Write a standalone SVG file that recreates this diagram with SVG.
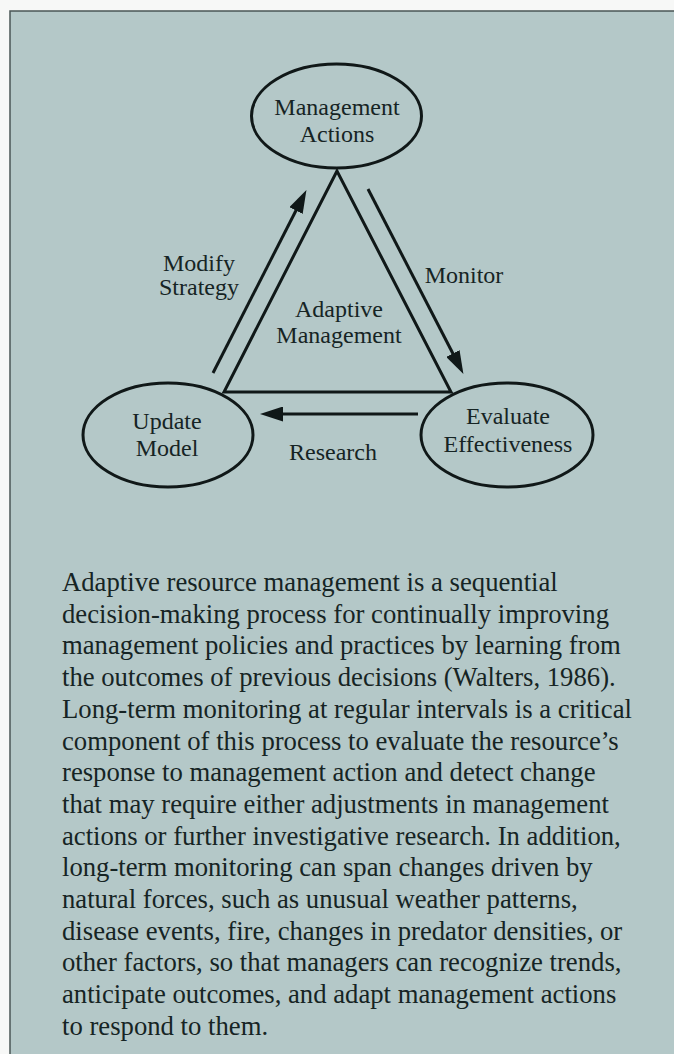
<svg xmlns="http://www.w3.org/2000/svg" width="674" height="1054" viewBox="0 0 674 1054">
<defs>
<style>
.lbl{font-family:"Liberation Serif","Times New Roman",serif;font-size:24px;fill:#162424;text-anchor:middle}
.para{font-family:"Liberation Serif","Times New Roman",serif;font-size:26.7px;fill:#162424}
.node{fill:none;stroke:#101818;stroke-width:3}
.edge{fill:none;stroke:#101818;stroke-width:3}
</style>
<marker id="ah" markerUnits="userSpaceOnUse" markerWidth="23" markerHeight="15" refX="4" refY="7.5" orient="auto">
<path d="M0,0 L23,7.5 L0,15 z" fill="#101818"/>
</marker>
</defs>
<rect x="0" y="0" width="674" height="1054" fill="#f7f8f7"/>
<rect x="10" y="11" width="680" height="1060" fill="#b4c8c8" stroke="#4a5656" stroke-width="1.5"/>

<g id="connectors">
<polygon class="edge" points="337,171 224,392 451,392" stroke-linejoin="miter"/>
<line class="edge" x1="213" y1="373" x2="297.8" y2="207" marker-end="url(#ah)"/>
<line class="edge" x1="368" y1="189" x2="454.7" y2="357" marker-end="url(#ah)"/>
<line class="edge" x1="418" y1="414" x2="279" y2="414" marker-end="url(#ah)"/>
</g>

<g id="management-actions">
<ellipse class="node" cx="336.5" cy="116" rx="85" ry="52"/>
<text class="lbl" x="337" y="115">Management</text>
<text class="lbl" x="337" y="142">Actions</text>
</g>

<g id="update-model">
<ellipse class="node" cx="168" cy="435" rx="85" ry="52"/>
<text class="lbl" x="167" y="429">Update</text>
<text class="lbl" x="167" y="456">Model</text>
</g>

<g id="evaluate-effectiveness">
<ellipse class="node" cx="507" cy="435" rx="86" ry="52"/>
<text class="lbl" x="508" y="424">Evaluate</text>
<text class="lbl" x="508" y="452">Effectiveness</text>
</g>

<g id="adaptive-management">
<text class="lbl" x="339" y="317">Adaptive</text>
<text class="lbl" x="339" y="343">Management</text>
</g>

<g id="edge-labels">
<text class="lbl" x="199" y="271">Modify</text>
<text class="lbl" x="199" y="295">Strategy</text>
<text class="lbl" x="464" y="283">Monitor</text>
<text class="lbl" x="333" y="460">Research</text>
</g>

<g id="caption">
<text class="para" x="62" y="591">Adaptive resource management is a sequential</text>
<text class="para" x="62" y="622.7">decision-making process for continually improving</text>
<text class="para" x="62" y="654.4">management policies and practices by learning from</text>
<text class="para" x="62" y="686.1">the outcomes of previous decisions (Walters, 1986).</text>
<text class="para" x="62" y="717.8">Long-term monitoring at regular intervals is a critical</text>
<text class="para" x="62" y="749.5">component of this process to evaluate the resource’s</text>
<text class="para" x="62" y="781.2">response to management action and detect change</text>
<text class="para" x="62" y="812.9">that may require either adjustments in management</text>
<text class="para" x="62" y="844.6">actions or further investigative research. In addition,</text>
<text class="para" x="62" y="876.3">long-term monitoring can span changes driven by</text>
<text class="para" x="62" y="908">natural forces, such as unusual weather patterns,</text>
<text class="para" x="62" y="939.7">disease events, fire, changes in predator densities, or</text>
<text class="para" x="62" y="971.4">other factors, so that managers can recognize trends,</text>
<text class="para" x="62" y="1003.1">anticipate outcomes, and adapt management actions</text>
<text class="para" x="62" y="1034.8">to respond to them.</text>
</g>
</svg>
